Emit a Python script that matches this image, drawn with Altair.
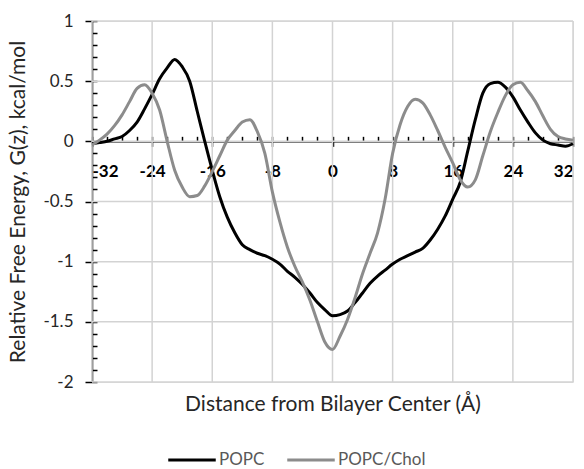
import altair as alt
import pandas as pd

x_vals = list(range(-32, 33))
popc = [-0.02, -0.01, 0.00, 0.02, 0.04, 0.09, 0.16, 0.27, 0.39, 0.52, 0.61, 0.68, 0.62, 0.50, 0.25, 0.00,
        -0.24, -0.46, -0.63, -0.76, -0.86, -0.90, -0.93, -0.95, -0.98, -1.02, -1.08, -1.13, -1.19, -1.26,
        -1.34, -1.40, -1.45, -1.44, -1.41, -1.34, -1.26, -1.18, -1.12, -1.07, -1.02, -0.98, -0.95, -0.92,
        -0.89, -0.82, -0.73, -0.62, -0.48, -0.34, -0.08, 0.18, 0.40, 0.48, 0.49, 0.45, 0.37, 0.26, 0.16,
        0.07, 0.01, -0.02, -0.03, -0.04, -0.02]
popc_chol = [-0.03, 0.01, 0.06, 0.13, 0.22, 0.33, 0.44, 0.47, 0.40, 0.26, 0.00, -0.24, -0.38, -0.46, -0.45,
             -0.37, -0.25, -0.12, 0.01, 0.09, 0.16, 0.18, 0.08, -0.10, -0.42, -0.67, -0.88, -1.04, -1.17,
             -1.32, -1.50, -1.67, -1.73, -1.62, -1.48, -1.30, -1.10, -0.93, -0.76, -0.48, -0.10, 0.14, 0.29,
             0.35, 0.32, 0.22, 0.09, -0.05, -0.18, -0.32, -0.38, -0.32, -0.12, 0.08, 0.24, 0.38, 0.47, 0.49,
             0.42, 0.33, 0.21, 0.10, 0.04, 0.02, 0.01]
series_names = ["POPC", "POPC/Chol"]
series_colors = ["#000000", "#8c8c8c"]
x_major = [-32, -24, -16, -8, 0, 8, 16, 24, 32]
x_minor = list(range(-32, 33, 2))
y_major = [-2, -1.5, -1, -0.5, 0, 0.5, 1]
y_minor = [round(-2 + 0.1 * i, 1) for i in range(31)]

df = pd.concat([
    pd.DataFrame({"z": x_vals, "G": popc, "series": series_names[0]}),
    pd.DataFrame({"z": x_vals, "G": popc_chol, "series": series_names[1]}),
])
grid_x_df = pd.DataFrame({"gx": x_major})
grid_y_df = pd.DataFrame({"gy": y_major})

W, H = 481, 361
zero_from_top = H * (1 - 0) / 3.0
FONT = "Lato"
GRID = "lightgray"

xs = alt.Scale(domain=[-32, 32], nice=False, zero=False)
ys = alt.Scale(domain=[-2, 1], nice=False, zero=False)

base = alt.Chart(df)

grid_x = alt.Chart(grid_x_df).mark_rule(strokeWidth=1.5).encode(
    x=alt.X("gx:Q", scale=xs, axis=None),
    color=alt.value(GRID))
grid_y = alt.Chart(grid_y_df).mark_rule(strokeWidth=1.5).encode(
    y=alt.Y("gy:Q", scale=ys, axis=None),
    color=alt.value(GRID))

l1 = base.mark_line(strokeOpacity=0).encode(
    x=alt.X("z:Q", scale=xs, axis=alt.Axis(
        orient="bottom", values=x_major, grid=False,
        labels=False, ticks=False, domain=False,
        title="Distance from Bilayer Center (Å)", titleFont=FONT, titleFontSize=21,
        titleFontWeight="normal", titleColor="#262626", titlePadding=11)),
    y=alt.Y("G:Q", scale=ys, axis=alt.Axis(
        orient="left", values=y_major, grid=False,
        labelExpr="toString(datum.value)", labelFont=FONT, labelFontSize=17, labelColor="#262626",
        ticks=True, tickSize=7, tickColor="#000000", tickWidth=1.5, labelPadding=12,
        domain=True, domainColor="#000000", domainWidth=1.5,
        title="Relative Free Energy, G(z), kcal/mol", titleFont=FONT, titleFontSize=21,
        titleFontWeight="normal", titleColor="#262626", titlePadding=14)),
)

l2 = base.mark_line(strokeOpacity=0).encode(
    x=alt.X("z:Q", scale=xs, axis=alt.Axis(
        orient="bottom", offset=-(H - zero_from_top), values=x_major, grid=False,
        labelExpr="toString(datum.value)", labelFont=FONT, labelFontSize=17, labelFontWeight="bold",
        labelColor="#000000", labelPadding=17, ticks=True, tickSize=5, tickColor="#000000", tickWidth=1.5,
        domain=True, domainColor="#000000", domainWidth=1.5, title=None)),
    y=alt.Y("G:Q", scale=ys, axis=alt.Axis(
        orient="right", offset=-W, values=y_minor, grid=False, labels=False,
        ticks=True, tickSize=5, tickColor="#000000", tickWidth=1.5, domain=False, title=None)),
)

l3 = base.mark_line(strokeOpacity=0).encode(
    x=alt.X("z:Q", scale=xs, axis=alt.Axis(
        orient="top", offset=-zero_from_top, values=x_minor, grid=False, labels=False,
        ticks=True, tickSize=5, tickColor="#000000", tickWidth=1.5, domain=False, title=None)),
    y=alt.Y("G:Q", scale=ys, axis=None),
)

lines = base.mark_line(strokeWidth=3, interpolate="monotone").encode(
    x=alt.X("z:Q", scale=xs, axis=None),
    y=alt.Y("G:Q", scale=ys, axis=None),
    color=alt.Color("series:N", scale=alt.Scale(domain=series_names, range=series_colors),
                    legend=alt.Legend(orient="none", legendX=89, legendY=428, direction="horizontal",
                                      title=None, symbolType="M-2.5,0H2.5", symbolSize=361,
                                      symbolStrokeWidth=3, labelFont=FONT, labelFontSize=17,
                                      labelColor="#595959", labelOffset=16, columnPadding=16)),
)

chart = alt.layer(grid_x, grid_y, l1, l2, l3, lines).resolve_axis(x="independent", y="independent").properties(
    width=W, height=H,
    autosize=alt.AutoSizeParams(type="none"),
    padding={"left": 92, "top": 21, "right": 11, "bottom": 87},
).configure_view(stroke=None).configure(background="white")

chart.save("out.html", embed_options={"renderer": "svg", "actions": False})
